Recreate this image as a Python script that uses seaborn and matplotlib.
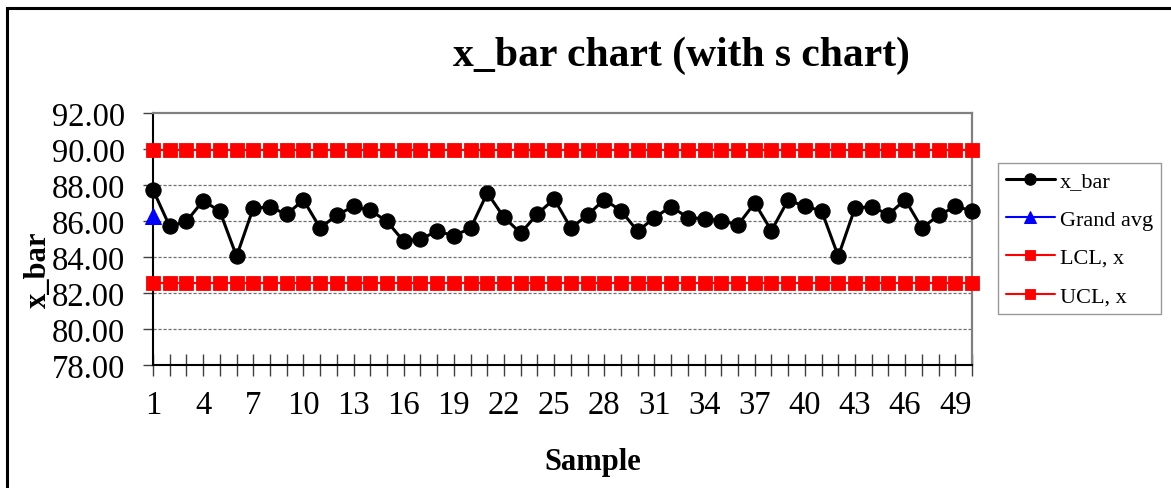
import numpy as np
import pandas as pd
import matplotlib
matplotlib.use("Agg")
import matplotlib.pyplot as plt
from matplotlib.patches import Rectangle
import seaborn as sns

# ---- data ----
samples = list(range(1, 51))
x_bar = [87.74, 85.70, 85.98, 87.13, 86.54, 84.04, 86.72, 86.78, 86.37, 87.17,
         85.61, 86.33, 86.81, 86.59, 85.98, 84.87, 85.00, 85.43, 85.19, 85.59,
         87.56, 86.20, 85.33, 86.39, 87.22, 85.61, 86.33, 87.19, 86.57, 85.43,
         86.19, 86.80, 86.19, 86.13, 86.02, 85.78, 87.00, 85.46, 87.17, 86.81,
         86.57, 84.04, 86.72, 86.80, 86.35, 87.19, 85.61, 86.31, 86.81, 86.57]
grand_avg_sample = [1]
grand_avg = [86.25]
lcl_x = [82.55] * 50
ucl_x = [89.95] * 50
y_ticks = [78, 80, 82, 84, 86, 88, 90, 92]
x_label_ticks = list(range(1, 51, 3))

sns.set_theme(style="white")
plt.rcParams['font.family'] = ['Liberation Serif', 'DejaVu Serif']
plt.rcParams['text.color'] = 'black'
plt.rcParams['xtick.color'] = 'black'
plt.rcParams['ytick.color'] = 'black'
plt.rcParams['axes.labelcolor'] = 'black'

W, H = 1171, 489
fig = plt.figure(figsize=(W / 100, H / 100), dpi=100)
fig.patch.set_facecolor('white')
ax = fig.add_axes([153 / W, 1 - 366 / H, (972 - 153) / W, (366 - 114) / H])
ax.set_facecolor('white')

df = pd.DataFrame({'Sample': samples, 'x_bar': x_bar, 'LCL': lcl_x, 'UCL': ucl_x})
gdf = pd.DataFrame({'Sample': grand_avg_sample, 'g': grand_avg})

# grid
for yv in y_ticks[1:-1]:
    ax.axhline(yv, color='#707070', lw=0.9, ls=(0, (2.5, 1.5)), zorder=1)

sns.lineplot(data=df, x='Sample', y='LCL', ax=ax, color='#FF0000', lw=1.5,
             marker='s', markersize=10, markeredgecolor='#FF0000', markeredgewidth=0.6,
             label='LCL, x', clip_on=False, zorder=3)
sns.lineplot(data=df, x='Sample', y='UCL', ax=ax, color='#FF0000', lw=1.5,
             marker='s', markersize=10, markeredgecolor='#FF0000', markeredgewidth=0.6,
             label='UCL, x', clip_on=False, zorder=3)
sns.lineplot(data=gdf, x='Sample', y='g', ax=ax, color='#0000FF', lw=1.5,
             marker='^', markersize=11, markeredgecolor='#0000FF',
             label='Grand avg', clip_on=False, zorder=4)
sns.lineplot(data=df, x='Sample', y='x_bar', ax=ax, color='black', lw=2.2,
             marker='o', markersize=11, markeredgecolor='black',
             label='x_bar', clip_on=False, zorder=5)

ax.set_xlim(1, 50)
ax.set_ylim(78, 92)
ax.set_yticks(y_ticks)
ax.set_yticklabels([f"{v:.2f}" for v in y_ticks], fontsize=23.5)
ax.set_xticks(samples)
ax.set_xticklabels([str(s) if s in x_label_ticks else '' for s in samples], fontsize=23.5)
ax.tick_params(axis='x', direction='inout', length=16, width=1, color='#404040', pad=10,
               labelcolor='black', bottom=True)
ax.tick_params(axis='y', direction='out', length=7, width=1, color='#404040', pad=13,
               labelcolor='black', left=True)
ax.set_xlabel('')
ax.set_ylabel('')

for s in ['left', 'bottom']:
    ax.spines[s].set_color('black')
    ax.spines[s].set_linewidth(1.5)
for s in ['top', 'right']:
    ax.spines[s].set_color('#808080')
    ax.spines[s].set_linewidth(1.6)
    ax.spines[s].set_visible(True)

# legend
handles, labels = ax.get_legend_handles_labels()
order = ['x_bar', 'Grand avg', 'LCL, x', 'UCL, x']
hmap = dict(zip(labels, handles))
leg = ax.legend([hmap[o] for o in order], order, loc='upper left',
                bbox_to_anchor=(998 / W, 1 - 164 / H), bbox_transform=fig.transFigure,
                fontsize=16, frameon=True, fancybox=False, borderaxespad=0,
                handlelength=2.2, handletextpad=0.25, labelspacing=0.8,
                borderpad=0.35, markerscale=0.75)
leg.get_frame().set_edgecolor('#808080')
leg.get_frame().set_linewidth(1.0)
for t in leg.get_texts():
    t.set_color('black')

fig.text(681 / W, 1 - 56 / H, 'x_bar chart (with s chart)', ha='center', va='center',
         fontsize=30, fontweight='bold', color='black')
fig.text(593 / W, 1 - 463 / H, 'Sample', ha='center', va='center',
         fontsize=22, fontweight='bold', color='black')
fig.text(38 / W, 1 - 270 / H, 'x_bar', ha='center', va='center', rotation=90,
         fontsize=22, fontweight='bold', color='black')

fig.add_artist(Rectangle((7 / W, -0.1), 1.2, 1.1 - 8.5 / H, transform=fig.transFigure,
                         fill=False, edgecolor='black', lw=2.2))

fig.savefig('out.png', dpi=100)
